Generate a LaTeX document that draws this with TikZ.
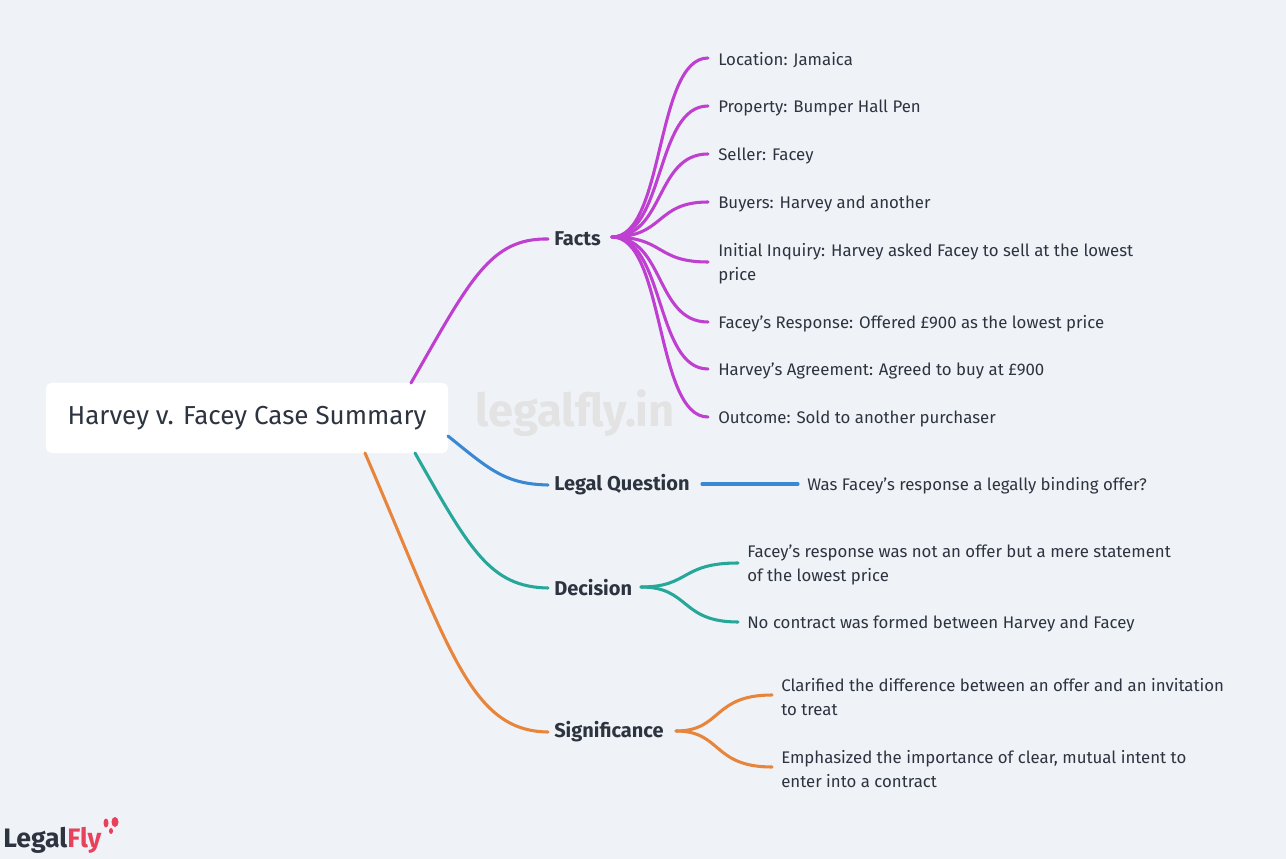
\documentclass[tikz,border=0pt]{standalone}
\usepackage{fontspec}
\setmainfont{Fira Sans}
\definecolor{bg}{HTML}{EFF3F7}
\definecolor{txt}{HTML}{2D3440}
\definecolor{cP}{HTML}{BF3FD0}
\definecolor{cB}{HTML}{3A88D4}
\definecolor{cT}{HTML}{27A79A}
\definecolor{cO}{HTML}{E8853C}
\definecolor{logoR}{HTML}{E8415B}
\begin{document}
\begin{tikzpicture}[x=0.75pt,y=-0.75pt,
  leaf/.style={anchor=west,inner sep=0pt,text=txt,font=\fontsize{12.6}{18}\selectfont,align=left,yshift=-1.5pt},
  br/.style={anchor=west,inner sep=0pt,text=txt,font=\fontsize{15}{16}\selectfont\bfseries},
  con/.style={line width=2.3pt,line cap=round}]
\useasboundingbox (0,0) rectangle (1286,859);
\fill[bg] (0,0) rectangle (1286,859);
\node[text=gray!22,font=\fontsize{34}{40}\selectfont\bfseries] (wm) at (575,413) {legalfly.in};
\node[fill=white,rounded corners=4pt,minimum width=402*0.75pt,minimum height=70*0.75pt,text=txt,font=\fontsize{19.5}{22}\selectfont] (root) at (247,418) {\raisebox{-2pt}{Harvey v. Facey Case Summary}};
% branches
\node[br] (facts) at (554,239) {Facts};
\node[br] (lq) at (554,485) {Legal Question};
\node[br] (dec) at (554,588) {Decision};
\node[br] (sig) at (554,732) {Significance};
\coordinate (rF) at (411,383);
\coordinate (rL) at (448,436);
\coordinate (rD) at (415,453);
\coordinate (rS) at (365,453);
\draw[con,cP] (rF) .. controls (470,280) and (490,238) .. ([xshift=-4.5pt]facts.west);
\draw[con,cB] (rL) .. controls (490,470) and (505,484) .. ([xshift=-4.5pt]lq.west);
\draw[con,cT] (rD) .. controls (470,550) and (490,587) .. ([xshift=-4.5pt]dec.west);
\draw[con,cO] (rS) .. controls (450,650) and (470,731) .. ([xshift=-4.5pt]sig.west);
% facts leaves
\coordinate (fS) at (612,237);
\foreach \n/\y/\t in {a/58/{Location: Jamaica},b/106/{Property: Bumper Hall Pen},c/154/{Seller: Facey},d/202/{Buyers: Harvey and another},f/322/{Facey's Response: Offered £900 as the lowest price},g/369/{Harvey's Agreement: Agreed to buy at £900},h/417/{Outcome: Sold to another purchaser}}{
  \node[leaf] (F\n) at (718,\y) {\t};
  \draw[con,cP] (fS) .. controls (665,237) and (655,\y) .. (708,\y);
}
\node[leaf] (Fe) at (718,262) {Initial Inquiry: Harvey asked Facey to sell at the lowest\\price};
\draw[con,cP] (fS) .. controls (665,237) and (655,262) .. (708,262);
% legal question
\node[leaf] (L1) at (807,484) {Was Facey's response a legally binding offer?};
\draw[con,cB] (702,484) -- (798,484);
% decision
\coordinate (dS) at (641,587);
\node[leaf] (D1) at (747,563) {Facey's response was not an offer but a mere statement\\of the lowest price};
\node[leaf] (D2) at (747,622) {No contract was formed between Harvey and Facey};
\draw[con,cT] (dS) .. controls (690,587) and (680,563) .. (738,563);
\draw[con,cT] (dS) .. controls (690,587) and (680,622) .. (738,622);
% significance
\coordinate (sS) at (676,731);
\node[leaf] (S1) at (781,695) {Clarified the difference between an offer and an invitation\\to treat};
\node[leaf] (S2) at (781,767) {Emphasized the importance of clear, mutual intent to\\enter into a contract};
\draw[con,cO] (sS) .. controls (722,731) and (712,695) .. (772,695);
\draw[con,cO] (sS) .. controls (722,731) and (712,767) .. (772,767);
% logo
\node[anchor=west,inner sep=0pt,font=\fontsize{20}{22}\selectfont\bfseries] (logo) at (3,840) {\textcolor{txt}{Legal}\textcolor{logoR}{Fly}};
\fill[logoR] (106,823) ellipse (2.5 and 4.5);
\fill[logoR] (115,822) ellipse (3.5 and 5);
\fill[logoR] (111,831) ellipse (2 and 3);
\end{tikzpicture}
\end{document}
